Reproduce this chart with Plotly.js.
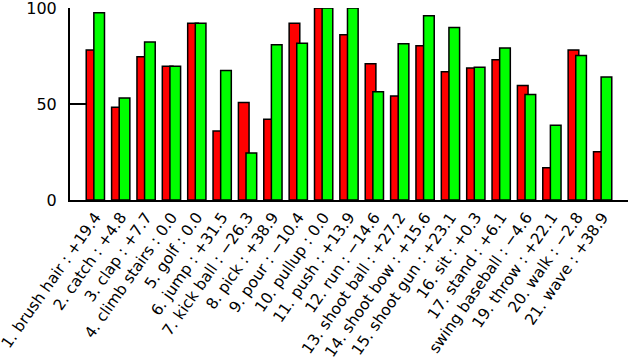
<!DOCTYPE html>
<html>
<head>
<meta charset="utf-8">
<script src="https://cdn.plot.ly/plotly-3.0.1.min.js"></script>
<style>html,body{margin:0;padding:0;background:#fff;}#chart{width:628px;height:362px;}</style>
</head>
<body>
<div id="chart"></div>
<script>
const categories = ["1. brush hair : +19.4","2. catch : +4.8","3. clap : +7.7","4. climb stairs : 0.0","5. golf : 0.0","6. jump : +31.5","7. kick ball : \u221226.3","8. pick : +38.9","9. pour : \u221210.4","10. pullup : 0.0","11. push : +13.9","12. run : \u221214.6","13. shoot ball : +27.2","14. shoot bow : +15.6","15. shoot gun : +23.1","16. sit : +0.3","17. stand : +6.1","swing baseball : \u22124.6","19. throw : +22.1","20. walk : \u22122.8","21. wave : +38.9"];
const positions = [1,2,3,4,5,6,7,8,9,10,11,12,13,14,15,16,17,18,19,20,21];
const redValues = [78.1,48.3,74.6,69.7,92.0,35.9,50.8,42.0,92.0,100,86.1,71.0,54.2,80.4,66.8,68.8,73.1,59.6,16.8,78.1,25.1];
const greenValues = [97.5,53.1,82.3,69.7,92.0,67.4,24.5,80.9,81.6,100,100,56.4,81.4,96.0,89.9,69.1,79.2,55.0,38.9,75.3,64.0];
const yTicks = [0,50,100];

const font = {family: "DejaVu Sans, Liberation Sans, Arial, sans-serif", size: 16, color: "#000"};
const xFont = {family: "DejaVu Sans, Liberation Sans, Arial, sans-serif", size: 15.5, color: "#000"};
const traces = [
  {type: "bar", x: positions, y: redValues, width: 0.42, offset: -0.36,
   marker: {color: "#ff0000", line: {color: "#000", width: 1.5}}, hoverinfo: "none"},
  {type: "bar", x: positions, y: greenValues, width: 0.42, offset: -0.06,
   marker: {color: "#00ff00", line: {color: "#000", width: 1.5}}, hoverinfo: "none"}
];
const layout = {
  width: 628, height: 362,
  margin: {l: 70, r: 0, t: 8, b: 162},
  barmode: "overlay",
  showlegend: false,
  paper_bgcolor: "#fff", plot_bgcolor: "#fff",
  font: font,
  xaxis: {range: [0, 22], tickvals: positions, ticktext: categories, tickangle: -55,
          showgrid: false, zeroline: false, showline: true, linecolor: "#000", linewidth: 2,
          ticks: "", tickfont: xFont, ticklabeloverflow: "allow", layer: "below traces"},
  yaxis: {range: [0, 100], tickvals: yTicks, ticktext: yTicks.map(String),
          showgrid: false, zeroline: false, showline: true, linecolor: "#000", linewidth: 2,
          ticks: "inside", ticklen: 21, tickwidth: 2, tickcolor: "#000",
          tickfont: font, ticklabelstandoff: 8, ticklabeloverflow: "allow", layer: "below traces"}
};
Plotly.newPlot("chart", traces, layout, {staticPlot: true});
</script>
</body>
</html>
